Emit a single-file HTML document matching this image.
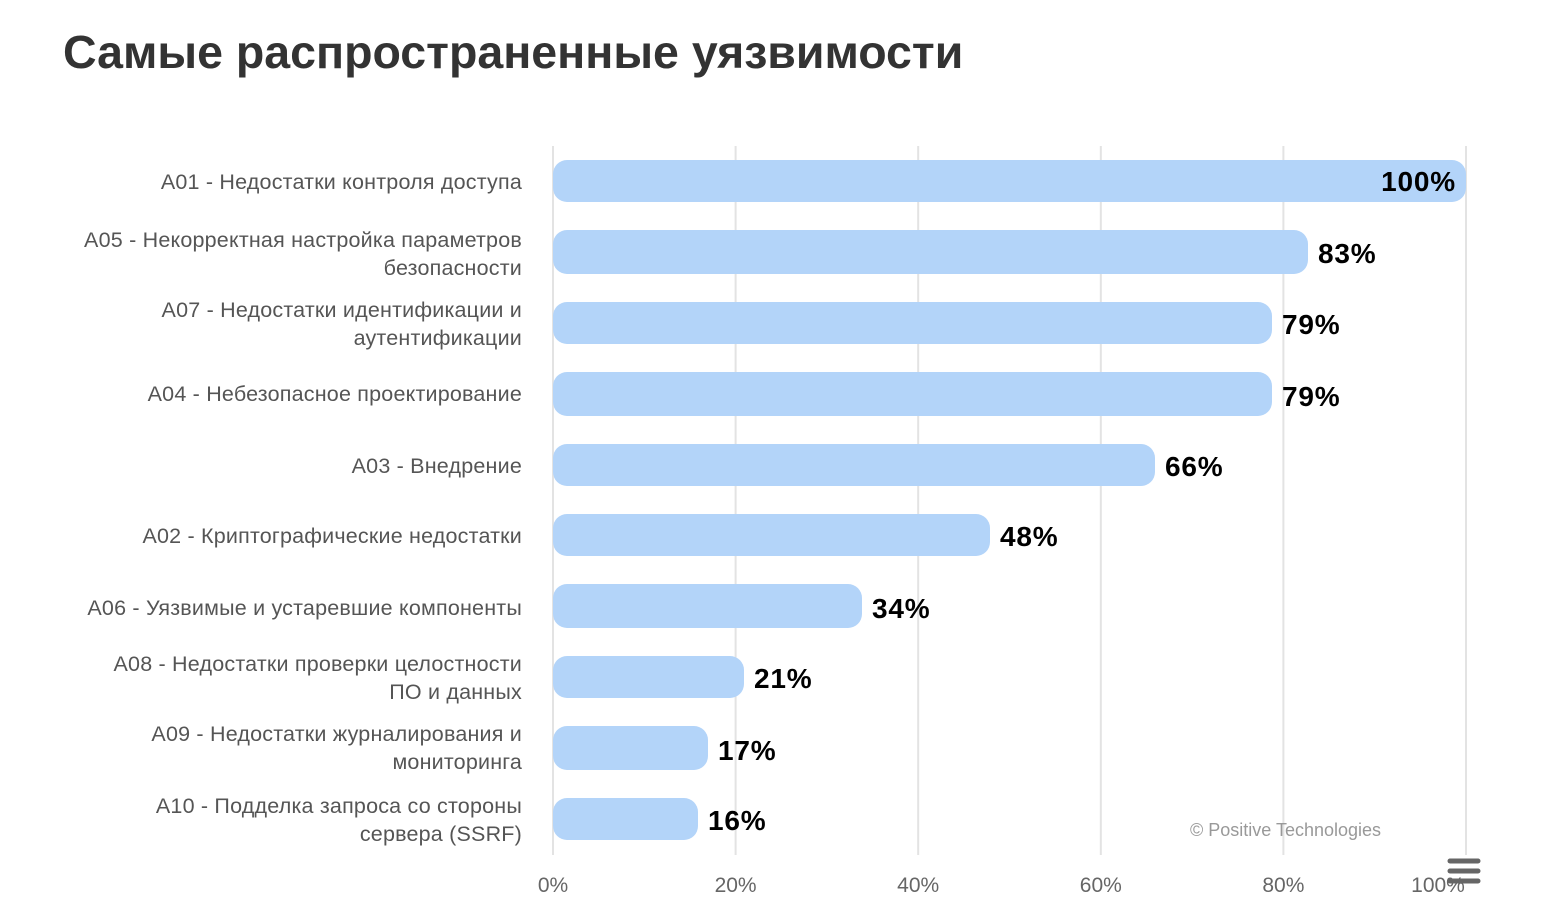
<!DOCTYPE html>
<html><head><meta charset="utf-8"><style>
html,body{margin:0;padding:0;background:#fff;}
svg{display:block;font-family:"Liberation Sans","DejaVu Sans",sans-serif;}
</style></head><body>
<svg width="1544" height="918" viewBox="0 0 1544 918" xmlns="http://www.w3.org/2000/svg">
<text x="63" y="68" font-size="46.5" font-weight="bold" fill="#333">Самые распространенные уязвимости</text>
<g stroke="#e3e3e3" stroke-width="2">
<line x1="553" y1="146" x2="553" y2="855"/>
<line x1="735.6" y1="146" x2="735.6" y2="855"/>
<line x1="918.2" y1="146" x2="918.2" y2="855"/>
<line x1="1100.8" y1="146" x2="1100.8" y2="855"/>
<line x1="1283.4" y1="146" x2="1283.4" y2="855"/>
<line x1="1466" y1="146" x2="1466" y2="855"/>
</g>
<g fill="#b3d4f9">
<rect x="553" y="160" width="913" height="42" rx="14"/>
<rect x="553" y="230" width="755" height="44" rx="14"/>
<rect x="553" y="302" width="719" height="42" rx="14"/>
<rect x="553" y="372" width="719" height="44" rx="14"/>
<rect x="553" y="444" width="602" height="42" rx="14"/>
<rect x="553" y="514" width="437" height="42" rx="14"/>
<rect x="553" y="584" width="309" height="44" rx="14"/>
<rect x="553" y="656" width="191" height="42" rx="14"/>
<rect x="553" y="726" width="155" height="44" rx="14"/>
<rect x="553" y="798" width="145" height="42" rx="14"/>
</g>
<g font-size="28" font-weight="bold" fill="#000" letter-spacing="0.8">
<text x="1456" y="191" text-anchor="end">100%</text>
<text x="1318" y="263">83%</text>
<text x="1282" y="334">79%</text>
<text x="1282" y="406">79%</text>
<text x="1165" y="476">66%</text>
<text x="1000" y="546">48%</text>
<text x="872" y="618">34%</text>
<text x="754" y="688">21%</text>
<text x="718" y="760">17%</text>
<text x="708" y="830">16%</text>
</g>
<g font-size="21.5" fill="#555" text-anchor="end" letter-spacing="0.2">
<text x="522" y="189">A01 - Недостатки контроля доступа</text>
<text x="522" y="247">A05 - Некорректная настройка параметров</text>
<text x="522" y="275">безопасности</text>
<text x="522" y="317">A07 - Недостатки идентификации и</text>
<text x="522" y="345">аутентификации</text>
<text x="522" y="401">A04 - Небезопасное проектирование</text>
<text x="522" y="473">A03 - Внедрение</text>
<text x="522" y="543">A02 - Криптографические недостатки</text>
<text x="522" y="615">A06 - Уязвимые и устаревшие компоненты</text>
<text x="522" y="671">A08 - Недостатки проверки целостности</text>
<text x="522" y="699">ПО и данных</text>
<text x="522" y="741">A09 - Недостатки журналирования и</text>
<text x="522" y="769">мониторинга</text>
<text x="522" y="813">A10 - Подделка запроса со стороны</text>
<text x="522" y="841">сервера (SSRF)</text>
</g>
<g font-size="21" fill="#666" text-anchor="middle">
<text x="553" y="892">0%</text>
<text x="735.6" y="892">20%</text>
<text x="918.2" y="892">40%</text>
<text x="1100.8" y="892">60%</text>
<text x="1283.4" y="892">80%</text>
<text x="1438" y="892">100%</text>
</g>
<text x="1190" y="836" font-size="18" fill="#999">© Positive Technologies</text>
<g stroke="#666" stroke-width="5" stroke-linecap="round">
<line x1="1450" y1="861" x2="1478" y2="861"/>
<line x1="1450" y1="871" x2="1478" y2="871"/>
<line x1="1450" y1="881" x2="1478" y2="881"/>
</g>
</svg>
</body></html>
